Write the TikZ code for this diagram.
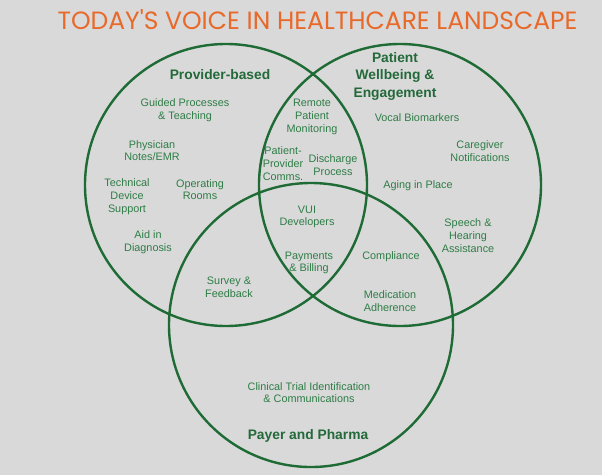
\documentclass[tikz,border=0pt]{standalone}
\usepackage{fontspec}
\setmainfont{Liberation Sans}
\newfontfamily\titlefont{Poppins}
\definecolor{bggray}{HTML}{D9D9D9}
\definecolor{ringgreen}{HTML}{1F6B35}
\definecolor{txtgreen}{HTML}{2E7D46}
\definecolor{hdgreen}{HTML}{23693A}
\definecolor{titleorange}{HTML}{E8692A}
\tikzset{
  ring/.style={draw=ringgreen, line width=2.4pt},
  item/.style={text=txtgreen, align=center, inner sep=0pt, font=\fontsize{10.85}{12.7}\selectfont},
  head/.style={text=hdgreen, align=center, inner sep=0pt, font=\bfseries\fontsize{13.8}{17.5}\selectfont},
  ttl/.style={text=titleorange, inner sep=0pt, font=\titlefont\fontsize{25}{28}\selectfont}
}
\begin{document}
\begin{tikzpicture}[x=1pt,y=-1pt]
\fill[bggray] (0,0) rectangle (602,475);
\useasboundingbox (0,0) rectangle (602,475);
% circles
\draw[ring] (226,185) circle[radius=141];
\draw[ring] (400,185) circle[radius=141];
\draw[ring] (311,325) circle[radius=142];
% title
\node[ttl] (title) at (317.5,20) {TODAY'S VOICE IN HEALTHCARE LANDSCAPE};
% headers
\node[head] (prov) at (220,75) {Provider-based};
\node[head] (pat) at (395,76) {Patient\\Wellbeing \&\\Engagement};
\node[head] (pay) at (308,436) {Payer and Pharma};
% provider
\node[item] (guided) at (185,110.5) {Guided Processes\\\& Teaching};
\node[item] (phys) at (152,150.5) {Physician\\Notes/EMR};
\node[item] (tech) at (127,196.5) {Technical\\Device\\Support};
\node[item] (oper) at (200,189.5) {Operating\\Rooms};
\node[item] (aid) at (148,242) {Aid in\\Diagnosis};
% provider & patient
\node[item] (remote) at (312,117) {Remote\\Patient\\Monitoring};
\node[item] (ppc) at (283,163.5) {Patient-\\Provider\\Comms.};
\node[item] (disch) at (333,165) {Discharge\\Process};
% patient
\node[item] (vocal) at (417,118) {Vocal Biomarkers};
\node[item] (care) at (480,151) {Caregiver\\Notifications};
\node[item] (aging) at (418,186) {Aging in Place};
\node[item] (speech) at (468,235.5) {Speech \&\\Hearing\\Assistance};
% centre
\node[item] (vui) at (307,217) {VUI\\Developers};
\node[item] (paybill) at (309,263) {Payments\\\& Billing};
% patient & payer
\node[item] (compl) at (391,257) {Compliance};
\node[item] (med) at (390,301) {Medication\\Adherence};
% provider & payer
\node[item] (survey) at (229,287) {Survey \&\\Feedback};
% payer
\node[item] (clin) at (309,392.5) {Clinical Trial Identification\\\& Communications};
\end{tikzpicture}
\end{document}
